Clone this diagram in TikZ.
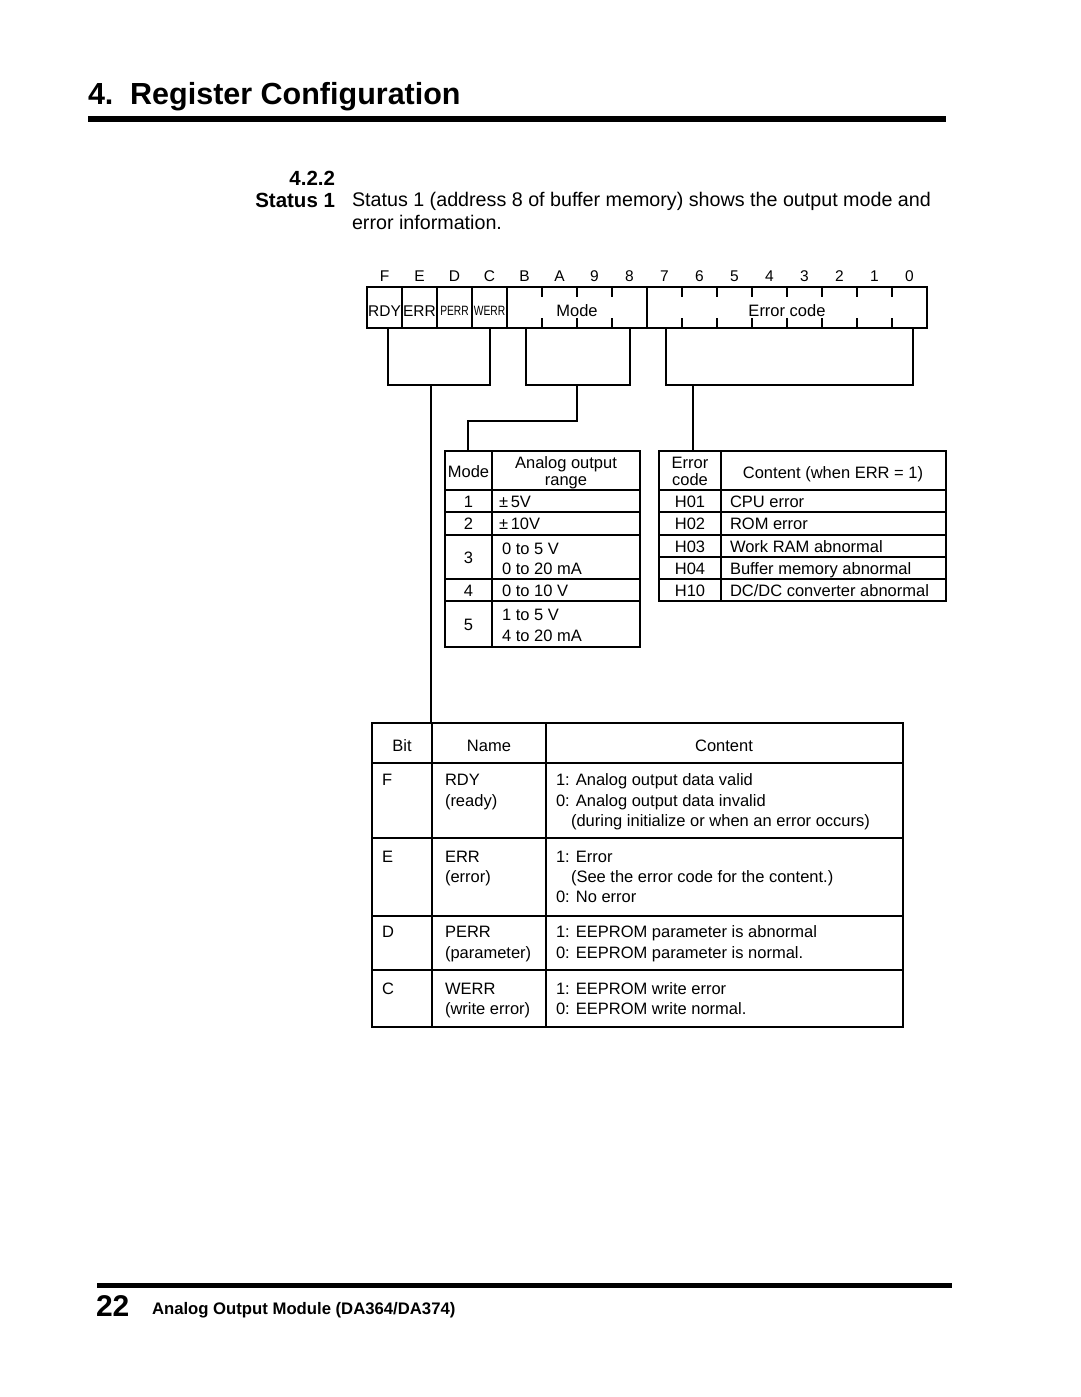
\documentclass[tikz,border=0pt]{standalone}
\usepackage{fontspec}
\setmainfont{Liberation Sans}
\begin{document}
\begin{tikzpicture}[x=1pt,y=-1pt,
  every node/.style={inner sep=0pt,outer sep=0pt},
  ln/.style={line width=1.1pt},
  body/.style={font=\fontsize{19.7}{23}\selectfont, anchor=base west},
  tab/.style={font=\fontsize{16.5}{20}\selectfont},
  tl/.style={tab, anchor=base west},
  tc/.style={tab, anchor=base},
  bitlbl/.style={font=\fontsize{15.5}{18}\selectfont, anchor=base},
  reglbl/.style={font=\fontsize{15.5}{18}\selectfont, anchor=base},
  smallreg/.style={font=\fontsize{13.5}{14}\selectfont, anchor=base},
]
\fill[white] (0,0) rectangle (1080,1397);
\useasboundingbox (0,0) rectangle (1080,1397);

% ---------- title ----------
\node[font=\bfseries\fontsize{30.5}{36}\selectfont, anchor=base west] (title) at (88,104) {4.\hspace{0.55em}Register Configuration};
\fill (88,116) rectangle (946,122);

\node[font=\bfseries\fontsize{20.5}{24}\selectfont, anchor=base east] (secnum) at (335,185) {4.2.2};
\node[font=\bfseries\fontsize{20.5}{24}\selectfont, anchor=base east] (secname) at (335,207) {Status 1};
\node[body] (body1) at (352,206) {Status 1 (address 8 of buffer memory) shows the output mode and};
\node[body] (body2) at (352,229) {error information.};

% ---------- register ----------
\foreach \l [count=\i from 0] in {F,E,D,C,B,A,9,8,7,6,5,4,3,2,1,0}
  \node[bitlbl] (bit\i) at ({384.5+35*\i},281) {\l};

\draw[ln] (367,287) rectangle (927,328);
\foreach \x in {402,437,472,507,647} \draw[ln] (\x,287) -- (\x,328);
\foreach \x in {542,577,612,682,717,752,787,822,857,892} {
  \draw[ln] (\x,287) -- (\x,297);
  \draw[ln] (\x,318) -- (\x,328);
}
\node[reglbl] (rdy) at (384.5,316) {RDY};
\node[reglbl] (err) at (419.5,316) {ERR};
\node[smallreg] (perr) at (454.5,315) {\scalebox{0.76}[1]{PERR}};
\node[smallreg] (werr) at (489.5,315) {\scalebox{0.76}[1]{WERR}};
\node[reglbl, font=\fontsize{16.5}{18}\selectfont] (mode) at (577,316) {Mode};
\node[reglbl, font=\fontsize{16.5}{18}\selectfont] (ecode) at (787,316) {Error code};

% brackets
\draw[ln] (388,328) -- (388,385) -- (490,385) -- (490,328);
\draw[ln] (526,328) -- (526,385) -- (630,385) -- (630,328);
\draw[ln] (666,328) -- (666,385) -- (913,385) -- (913,328);
\coordinate (bF) at (431,385);
\coordinate (bM) at (577,385);
\coordinate (bE) at (693,385);

% ---------- mode table ----------
\coordinate (mt) at (468,451);
\draw[ln] (445,451) rectangle (640,647);
\draw[ln] (492,451) -- (492,647);
\foreach \y in {490,512,535,579,601} \draw[ln] (445,\y) -- (640,\y);
\node[tc] (mh1) at (468.5,477) {Mode};
\node[tc] (mh2) at (566,468) {Analog output};
\node[tc] (mh3) at (566,485) {range};
\node[tc] (m1) at (468.5,507) {1};
\node[tl] (m1t) at (499,507) {±\,5V};
\node[tc] (m2) at (468.5,529.5) {2};
\node[tl] (m2t) at (499,529.5) {±\,10V};
\node[tc] (m3) at (468.5,563) {3};
\node[tl] (m3a) at (502,554) {0 to 5 V};
\node[tl] (m3b) at (502,574) {0 to 20 mA};
\node[tc] (m4) at (468.5,596) {4};
\node[tl] (m4t) at (502,596) {0 to 10 V};
\node[tc] (m5) at (468.5,630) {5};
\node[tl] (m5a) at (502,620) {1 to 5 V};
\node[tl] (m5b) at (502,641) {4 to 20 mA};

% ---------- error table ----------
\coordinate (et) at (693,451);
\draw[ln] (659,451) rectangle (946,601);
\draw[ln] (721,451) -- (721,601);
\foreach \y in {490,512,535,557,579} \draw[ln] (659,\y) -- (946,\y);
\node[tc] (eh1) at (690,468) {Error};
\node[tc] (eh2) at (690,485) {code};
\node[tc] (eh3) at (833,478) {Content (when ERR = 1)};
\node[tc] (e1) at (690,507) {H01};
\node[tl] (e1t) at (730,507) {CPU error};
\node[tc] (e2) at (690,529) {H02};
\node[tl] (e2t) at (730,529) {ROM error};
\node[tc] (e3) at (690,552) {H03};
\node[tl] (e3t) at (730,552) {Work RAM abnormal};
\node[tc] (e4) at (690,574) {H04};
\node[tl] (e4t) at (730,574) {Buffer memory abnormal};
\node[tc] (e5) at (690,596) {H10};
\node[tl] (e5t) at (730,596) {DC/DC converter abnormal};

% ---------- bit table ----------
\coordinate (bt) at (431,723);
\draw[ln] (372,723) rectangle (903,1027);
\draw[ln] (432,723) -- (432,1027);
\draw[ln] (546,723) -- (546,1027);
\foreach \y in {763,838,916,970} \draw[ln] (372,\y) -- (903,\y);
\node[tc] (bh1) at (402,751) {Bit};
\node[tc] (bh2) at (489,751) {Name};
\node[tc] (bh3) at (724,751) {Content};

\node[tl] (rF) at (382,785) {F};
\node[tl] (nF1) at (445,785) {RDY};
\node[tl] (nF2) at (445,806) {(ready)};
\node[tl] (cF1) at (556,785) {1: Analog output data valid};
\node[tl] (cF2) at (556,806) {0: Analog output data invalid};
\node[tl] (cF3) at (571,826) {(during initialize or when an error occurs)};

\node[tl] (rE) at (382,862) {E};
\node[tl] (nE1) at (445,862) {ERR};
\node[tl] (nE2) at (445,882) {(error)};
\node[tl] (cE1) at (556,862) {1: Error};
\node[tl] (cE2) at (571,882) {(See the error code for the content.)};
\node[tl] (cE3) at (556,902) {0: No error};

\node[tl] (rD) at (382,937) {D};
\node[tl] (nD1) at (445,937) {PERR};
\node[tl] (nD2) at (445,958) {(parameter)};
\node[tl] (cD1) at (556,937) {1: EEPROM parameter is abnormal};
\node[tl] (cD2) at (556,958) {0: EEPROM parameter is normal.};

\node[tl] (rC) at (382,994) {C};
\node[tl] (nC1) at (445,994) {WERR};
\node[tl] (nC2) at (445,1014) {(write error)};
\node[tl] (cC1) at (556,994) {1: EEPROM write error};
\node[tl] (cC2) at (556,1014) {0: EEPROM write normal.};

% ---------- connectors ----------
\draw[ln] (bF) -- (bt);
\draw[ln] (bM) -- (577,421) -| (mt);
\draw[ln] (bE) -- (et);

% ---------- footer ----------
\fill (97,1283) rectangle (952,1288);
\node[font=\bfseries\fontsize{30}{34}\selectfont, anchor=base west] (pnum) at (96,1316) {22};
\node[font=\bfseries\fontsize{16.7}{20}\selectfont, anchor=base west] (ftitle) at (152,1314) {Analog Output Module (DA364/DA374)};
\end{tikzpicture}
\end{document}
